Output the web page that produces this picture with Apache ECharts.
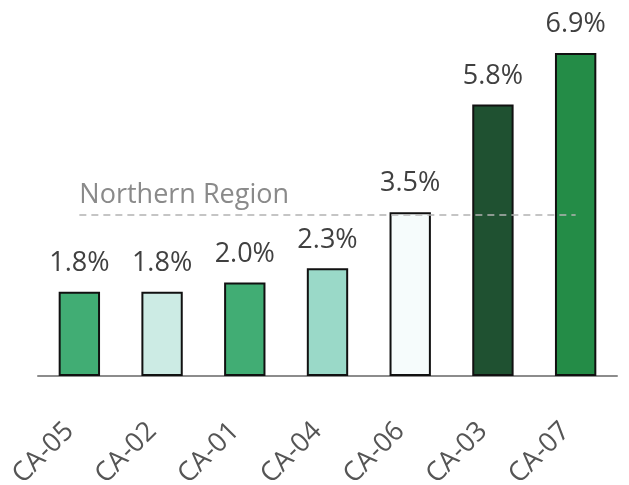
<!DOCTYPE html>
<html>
<head>
<meta charset="utf-8">
<script src="https://cdn.jsdelivr.net/npm/echarts@6/dist/echarts.min.js"></script>
<style>
  html, body { margin: 0; padding: 0; background: #fff; }
  #chart { width: 629px; height: 485px; }
</style>
</head>
<body>
<div id="chart"></div>
<script>
// data
const districts = ['CA-05', 'CA-02', 'CA-01', 'CA-04', 'CA-06', 'CA-03', 'CA-07'];
const rates = [1.8, 1.8, 2.0, 2.3, 3.5, 5.8, 6.9];
const barColors = ['#41ad74', '#ccebe4', '#41ad74', '#9ad9c8', '#f6fcfc', '#1f5131', '#248c47'];
const regionAvg = 3.45;
const regionName = 'Northern Region';

const chart = echarts.init(document.getElementById('chart'));

const option = {
  animation: false,
  grid: { left: 38, right: 12, top: 25, bottom: 109, outerBoundsMode: 'none' },
  xAxis: {
    type: 'category',
    data: districts,
    axisLine: { lineStyle: { color: '#8c8c8c', width: 2 } },
    axisTick: { show: false },
    axisLabel: {
      rotate: 45,
      margin: 41,
      padding: [0, 14, 0, 0],
      fontSize: 27,
      color: '#555',
      fontFamily: 'Open Sans'
    }
  },
  yAxis: {
    type: 'value',
    min: 0,
    max: 7.5,
    show: false,
    splitLine: { show: false }
  },
  series: [
    {
      type: 'bar',
      barWidth: '50%',
      data: rates.map((v, i) => ({
        value: v,
        itemStyle: { color: barColors[i] }
      })),
      itemStyle: { borderColor: '#111', borderWidth: 2 },
      label: {
        show: true,
        position: 'top',
        distance: 15,
        fontSize: 27,
        color: '#404040',
        fontFamily: 'Open Sans',
        formatter: p => p.value.toFixed(1) + '%'
      },
      markLine: {
        silent: true,
        symbol: 'none',
        lineStyle: { color: '#b3b3b3', type: [7, 5], width: 1.5 },
        label: {
          show: true,
          position: 'insideStartTop',
          formatter: regionName,
          fontSize: 27,
          color: '#8a8a8a',
          fontFamily: 'Open Sans',
          distance: [0, 6]
        },
        data: [[
          { xAxis: districts[0], yAxis: regionAvg },
          { xAxis: districts[districts.length - 1], yAxis: regionAvg }
        ]]
      }
    }
  ]
};

chart.setOption(option);
</script>
</body>
</html>
